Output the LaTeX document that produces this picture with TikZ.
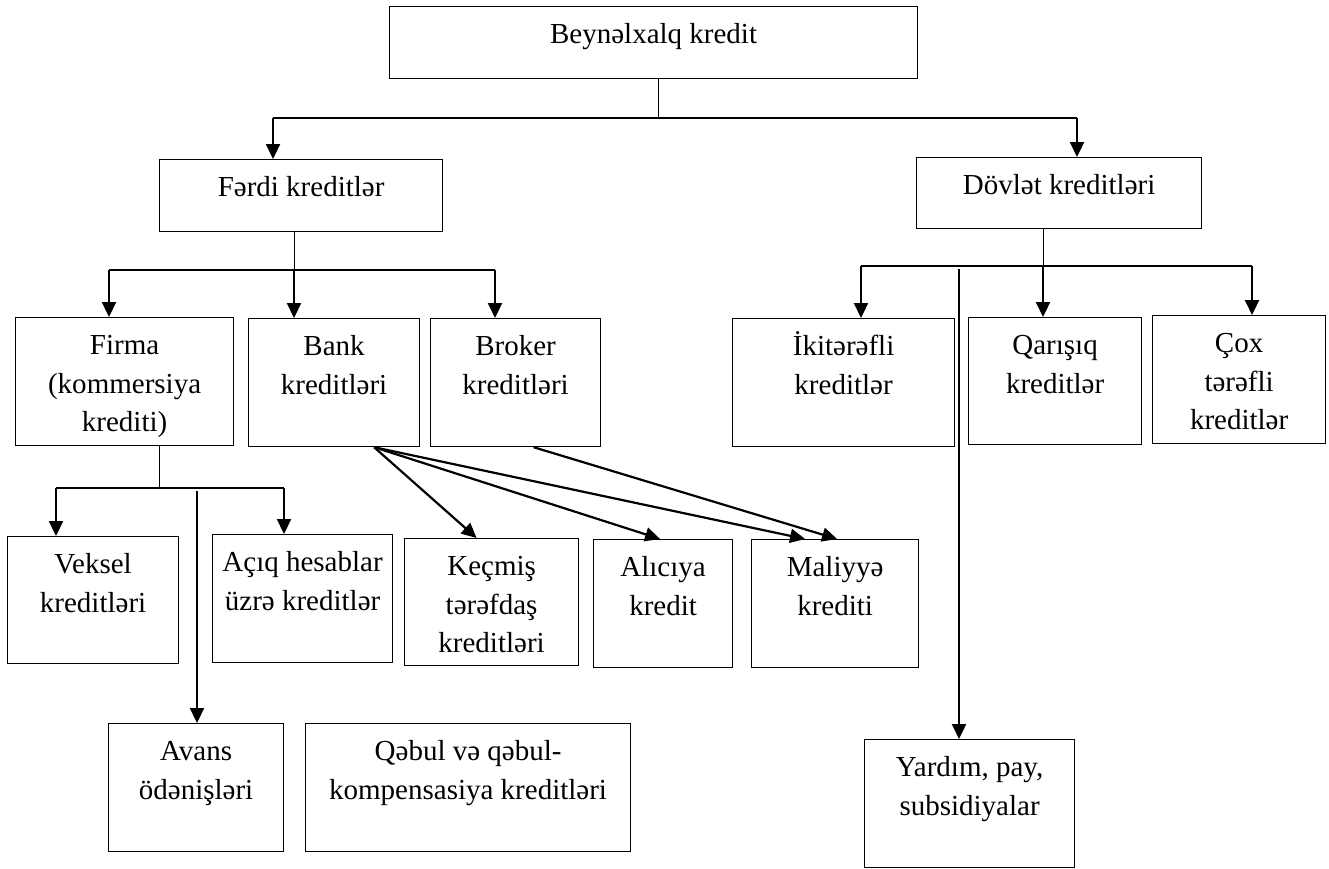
\documentclass[tikz,border=0pt]{standalone}
\usepackage{fontspec}
\setmainfont{Liberation Serif}
\usetikzlibrary{arrows.meta}
\tikzset{
  kbox/.style={draw, line width=1.2pt, inner sep=0pt, anchor=north west, font=\fontsize{29}{38.5}\selectfont},
  stem/.style={line width=0.9pt},
  bus/.style={line width=1.8pt},
  arr/.style={line width=2.2pt, -{Triangle[length=15pt,width=14pt]}},
}
\newcommand{\kbtext}[3]{\parbox[c][#2][t]{#1}{\centering\rule{0pt}{37pt}#3}}
\begin{document}
\begin{tikzpicture}[x=1pt,y=-1pt]
    \useasboundingbox (0,0) rectangle (1329,868);
    % Boxes
    \node[kbox] (root) at (389,6) {\kbtext{528pt}{72pt}{Beynəlxalq kredit}};
    \node[kbox] (fardi) at (159,159) {\kbtext{283pt}{72pt}{Fərdi kreditlər}};
    \node[kbox] (dovlet) at (916,157) {\kbtext{285pt}{71pt}{Dövlət kreditləri}};
    \node[kbox] (firma) at (15,317) {\kbtext{218pt}{128pt}{Firma\\(kommersiya\\krediti)}};
    \node[kbox] (bank) at (248,318) {\kbtext{171pt}{128pt}{Bank\\kreditləri}};
    \node[kbox] (broker) at (430,318) {\kbtext{170pt}{128pt}{Broker\\kreditləri}};
    \node[kbox] (iki) at (732,318) {\kbtext{222pt}{128pt}{İkitərəfli\\kreditlər}};
    \node[kbox] (qar) at (968,317) {\kbtext{173pt}{127pt}{Qarışıq\\kreditlər}};
    \node[kbox] (cox) at (1152,315) {\kbtext{173pt}{128pt}{Çox\\tərəfli\\kreditlər}};
    \node[kbox] (veksel) at (7,536) {\kbtext{171pt}{127pt}{Veksel\\kreditləri}};
    \node[kbox] (aciq) at (212,534) {\kbtext{180pt}{128pt}{Açıq hesablar\\üzrə kreditlər}};
    \node[kbox] (kecmis) at (404,538) {\kbtext{174pt}{127pt}{Keçmiş\\tərəfdaş\\kreditləri}};
    \node[kbox] (alici) at (593,539) {\kbtext{139pt}{128pt}{Alıcıya\\kredit}};
    \node[kbox] (maliyye) at (751,539) {\kbtext{167pt}{128pt}{Maliyyə\\krediti}};
    \node[kbox] (avans) at (108,723) {\kbtext{175pt}{128pt}{Avans\\ödənişləri}};
    \node[kbox] (qebul) at (305,723) {\kbtext{325pt}{128pt}{Qəbul və qəbul-\\kompensasiya kreditləri}};
    \node[kbox] (yardim) at (864,739) {\kbtext{210pt}{128pt}{Yardım, pay,\\subsidiyalar}};
    % Beynəlxalq kredit
    \coordinate (rj) at (658,118); \coordinate (rl) at (273,118); \coordinate (rr) at (1077,118);
    \draw[stem] (rj |- root.south) -- (rj);
    \draw[bus] (rl) -- (rr);
    \draw[arr] (rl) -- (rl |- fardi.north);
    \draw[arr] (rr) -- (rr |- dovlet.north);
    % Fərdi kreditlər
    \coordinate (fj) at (294,270); \coordinate (fl) at (109,270); \coordinate (fr) at (495,270);
    \draw[stem] (fj |- fardi.south) -- (fj);
    \draw[bus] (fl) -- (fr);
    \draw[arr] (fl) -- (fl |- firma.north);
    \draw[arr] (fj) -- (fj |- bank.north);
    \draw[arr] (fr) -- (fr |- broker.north);
    % Dövlət kreditləri
    \coordinate (dj) at (1043,266); \coordinate (dl) at (861,266); \coordinate (dr) at (1252,266);
    \coordinate (dy) at (959,269);
    \draw[stem] (dj |- dovlet.south) -- (dj);
    \draw[bus] (dl) -- (dr);
    \draw[arr] (dl) -- (dl |- iki.north);
    \draw[arr] (dj) -- (dj |- qar.north);
    \draw[arr] (dr) -- (dr |- cox.north);
    \draw[arr] (dy) -- (dy |- yardim.north);
    % Firma
    \coordinate (mj) at (159,488); \coordinate (ml) at (56,488); \coordinate (mr) at (284,488);
    \coordinate (ma) at (197,491);
    \draw[stem] (mj |- firma.south) -- (mj);
    \draw[bus] (ml) -- (mr);
    \draw[arr] (ml) -- (ml |- veksel.north);
    \draw[arr] (mr) -- (mr |- aciq.north);
    \draw[arr] (ma) -- (ma |- avans.north);
    % Bank and broker
    \draw[arr] ([xshift=40pt]bank.south) -- ([xshift=-15pt]kecmis.north);
    \draw[arr] ([xshift=40pt]bank.south) -- ([xshift=-3pt]alici.north);
    \draw[arr] ([xshift=40pt]bank.south) -- ([xshift=-30pt]maliyye.north);
    \draw[arr] ([xshift=18pt]broker.south) -- ([xshift=2pt]maliyye.north);
\end{tikzpicture}
\end{document}
